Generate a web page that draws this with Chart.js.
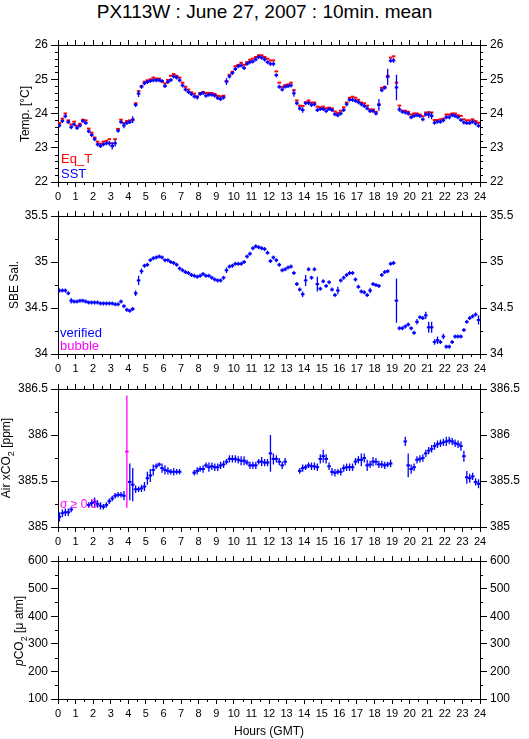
<!DOCTYPE html>
<html>
<head>
<meta charset="utf-8">
<script src="https://cdn.jsdelivr.net/npm/chart.js@4.4.1/dist/chart.umd.min.js"></script>
<style>
  body { margin: 0; background: #fff; width: 529px; height: 739px; position: relative; overflow: hidden;
         font-family: "Liberation Sans", Arial, sans-serif; color: #000; }
  canvas { position: absolute; left: 0; }
  .txt { position: absolute; white-space: nowrap; line-height: 1; }
  .rot { transform: translate(-50%, -50%) rotate(-90deg); font-size: 12px; }
</style>
</head>
<body>
<div class="txt" style="left:0;width:529px;top:2px;text-align:center;font-size:19px">PX113W : June 27, 2007 : 10min. mean</div>

<canvas id="c1" width="529" height="171" style="top:33px"></canvas>
<canvas id="c2" width="529" height="172" style="top:204px"></canvas>
<canvas id="c3" width="529" height="172" style="top:377px"></canvas>
<canvas id="c4" width="529" height="190" style="top:549px"></canvas>

<div class="txt rot" style="left:25px;top:114px">Temp. [°C]</div>
<div class="txt rot" style="left:14px;top:285px">SBE Sal.</div>
<div class="txt rot" style="left:8px;top:458px">Air xCO<sub style="font-size:9px">2</sub> [ppm]</div>
<div class="txt rot" style="left:21px;top:631px"><i>p</i>CO<sub style="font-size:9px">2</sub> [μ atm]</div>

<div class="txt" style="left:61px;top:152px;font-size:13px;color:#f00">Eq_T</div>
<div class="txt" style="left:61px;top:167px;font-size:13px;color:#00f">SST</div>
<div class="txt" style="left:60px;top:326px;font-size:13px;color:#00f">verified</div>
<div class="txt" style="left:60px;top:339px;font-size:13px;color:#f0f">bubble</div>
<div class="txt" style="left:60px;top:498px;font-size:12px;color:#f0f">σ ≥ 0.3</div>
<div class="txt" style="left:0;width:538px;top:725px;text-align:center;font-size:12px">Hours (GMT)</div>

<script>
// 10-minute bins over the day (bin centres in hours)
const binCenters = Array.from({ length: 144 }, (_, i) => (i + 0.5) / 6);

const hourTicks = [0,1,2,3,4,5,6,7,8,9,10,11,12,13,14,15,16,17,18,19,20,21,22,23,24];
const tempTicks = [22, 23, 24, 25, 26];
const salTicks  = [34, 34.5, 35, 35.5];
const co2Ticks  = [385, 385.5, 386, 386.5];
const pco2Ticks = [100, 200, 300, 400, 500, 600];

// ── Temperature (°C), one row per hour ─────────────────────
const sst = [
  23.65,23.78,23.92,23.75,23.60,23.68,  23.58,23.65,23.78,23.72,23.48,23.37,
  23.25,23.10,23.05,23.10,23.13,23.13,  23.05,23.13,23.50,23.75,23.65,23.72,
  23.75,23.82,24.25,24.58,24.78,24.88,  24.92,24.95,24.97,24.97,24.97,24.95,
  24.80,24.92,24.98,25.08,25.05,24.97,  24.82,24.70,24.63,24.57,24.50,24.47,
  24.57,24.60,24.52,24.55,24.55,24.52,  24.45,24.42,24.47,24.93,25.08,25.18,
  25.30,25.38,25.40,25.33,25.45,25.50,  25.52,25.58,25.65,25.63,25.58,25.50,
  25.45,25.45,25.12,24.78,24.70,24.78,  24.80,24.82,24.59,24.30,24.15,24.10,
  24.30,24.31,24.25,24.27,24.10,24.13,  24.13,24.07,24.13,24.10,23.98,23.95,
  24.00,24.10,24.27,24.40,24.40,24.37,  24.33,24.27,24.22,24.15,24.07,24.07,
  24.00,24.25,24.68,24.75,25.07,25.54,  25.55,24.76,24.12,24.05,24.03,24.00,
  23.89,23.93,23.95,23.93,23.83,23.97,  23.97,23.93,23.73,23.76,23.76,23.80,
  23.89,23.89,23.95,23.93,23.89,23.81,  23.74,23.72,23.72,23.76,23.71,23.64
];
const sstSd = [
  .03,.03,.06,.03,.03,.03,  .03,.03,.03,.05,.03,.03,  .03,.06,.05,.03,.05,.07,  .10,.09,.03,.05,.08,.05,
  .03,.10,.05,.10,.05,.03,  .03,.03,.03,.04,.03,.03,  .04,.03,.03,.03,.03,.03,  .03,.03,.03,.03,.03,.03,
  .03,.03,.03,.03,.03,.03,  .03,.03,.03,.10,.03,.03,  .03,.03,.03,.03,.03,.03,  .03,.03,.03,.03,.03,.05,
  .06,.07,.05,.03,.03,.03,  .03,.03,.10,.03,.06,.08,  .03,.03,.05,.03,.05,.03,  .03,.03,.03,.03,.05,.06,
  .03,.03,.03,.03,.03,.03,  .03,.03,.03,.03,.03,.03,  .03,.17,.05,.03,.24,.06,  .07,.37,.07,.03,.03,.03,
  .03,.03,.03,.03,.03,.03,  .10,.10,.05,.03,.03,.03,  .03,.03,.03,.03,.03,.03,  .03,.03,.03,.03,.03,.04
];
const eqT = [
  23.72,23.85,24.00,23.80,23.68,23.76,  23.64,23.70,23.82,23.80,23.56,23.44,
  23.30,23.18,23.12,23.18,23.20,23.25,  23.13,23.25,23.55,23.82,23.72,23.78,
  23.80,23.82,24.30,24.65,24.80,24.93,  24.97,25.00,25.05,25.02,25.02,24.93,
  24.88,24.98,25.10,25.15,25.10,25.05,  24.90,24.78,24.70,24.62,24.58,24.50,
  24.60,24.63,24.60,24.60,24.60,24.57,  24.52,24.50,24.52,24.95,25.13,25.22,
  25.38,25.42,25.48,25.42,25.50,25.57,  25.60,25.65,25.70,25.70,25.65,25.60,
  25.55,25.55,25.23,24.90,24.78,24.83,  24.85,24.90,24.68,24.38,24.23,24.22,
  24.33,24.38,24.32,24.32,24.20,24.18,  24.20,24.15,24.17,24.15,24.06,24.02,
  24.08,24.18,24.32,24.46,24.49,24.46,  24.40,24.32,24.30,24.23,24.12,24.12,
  24.05,24.27,24.75,24.78,25.10,25.63,  25.67,24.90,24.23,24.08,24.08,24.05,
  23.97,24.00,24.00,23.97,23.92,24.03,  24.03,24.03,23.81,23.81,23.83,23.85,
  23.97,23.97,24.00,24.00,23.95,23.93,  23.83,23.80,23.80,23.83,23.78,23.73
];

// ── SBE salinity ───────────────────────────────────────────
const salinity = [
  34.69,34.69,34.69,34.66,34.58,34.57,  34.57,34.58,34.58,34.57,34.56,34.56,
  34.56,34.56,34.55,34.55,34.55,34.55,  34.55,34.54,34.54,34.57,34.52,34.48,
  34.47,34.49,34.66,34.80,34.90,34.96,  34.97,35.02,35.04,35.05,35.06,35.05,
  35.02,35.02,35.00,34.99,34.97,34.93,  34.91,34.89,34.88,34.86,34.85,34.84,
  34.85,34.87,34.85,34.85,34.83,34.81,  34.80,34.80,34.83,34.91,34.95,34.96,
  34.98,34.98,34.98,35.00,35.06,35.09,  35.15,35.17,35.16,35.15,35.14,35.10,
  35.01,35.05,35.02,34.97,34.91,34.92,  34.94,34.95,34.88,34.76,34.70,34.65,
  34.80,34.92,34.83,34.92,34.76,34.71,  34.79,34.74,34.78,34.70,34.64,34.69,
  34.80,34.83,34.86,34.88,34.88,34.81,  34.73,34.68,34.67,34.64,34.69,34.76,
  34.75,34.74,34.86,34.89,34.90,34.98,  34.99,34.58,34.28,34.28,34.30,34.32,
  34.28,34.23,34.35,34.40,34.39,34.42,  34.29,34.29,34.13,34.15,34.13,34.19,
  34.08,34.08,34.13,34.19,34.19,34.19,  34.26,34.35,34.39,34.41,34.43,34.37
];
const salinitySd = [
  .01,.01,.01,.01,.03,.01,  .01,.01,.01,.01,.01,.01,  .01,.01,.01,.01,.01,.01,  .01,.01,.01,.02,.01,.01,
  .01,.01,.03,.05,.03,.02,  .01,.01,.01,.01,.01,.01,  .01,.01,.01,.01,.01,.01,  .01,.01,.01,.01,.01,.01,
  .01,.01,.01,.01,.01,.01,  .01,.01,.01,.03,.01,.01,  .01,.01,.01,.01,.01,.01,  .01,.01,.01,.01,.01,.02,
  .02,.01,.01,.02,.01,.01,  .01,.01,.02,.02,.02,.03,  .06,.02,.02,.02,.08,.01,  .02,.02,.02,.01,.02,.04,
  .02,.01,.01,.01,.01,.01,  .01,.01,.01,.01,.03,.01,  .01,.01,.01,.02,.02,.01,  .01,.24,.02,.02,.01,.01,
  .01,.02,.03,.01,.02,.04,  .06,.06,.03,.04,.02,.03,  .02,.01,.02,.01,.01,.01,  .02,.01,.01,.01,.01,.05
];

// ── Air xCO2 (ppm); null = no measurement in that bin ───────
const airCo2 = [
  385.11,385.15,385.16,385.16,385.19,null,    null,null,null,null,385.24,385.26,
  385.27,385.25,385.23,385.22,385.24,385.28,  385.31,385.34,385.35,385.35,385.34,null,
  385.49,385.46,385.41,385.41,385.42,385.44,  385.53,385.56,385.62,385.66,385.68,385.64,
  385.62,385.61,385.60,385.60,385.60,385.60,  null,null,null,null,385.59,385.61,
  385.63,385.63,385.67,385.65,385.66,385.65,  385.65,385.67,385.68,385.71,385.74,385.74,
  385.74,385.73,385.72,385.72,385.70,385.67,  385.67,385.67,385.71,385.71,385.70,385.70,
  385.80,385.74,385.74,385.71,385.67,385.71,  null,null,null,null,385.61,385.64,
  385.65,385.67,385.66,385.66,385.65,385.74,  385.77,385.74,385.66,385.60,385.59,385.60,
  385.60,385.64,385.65,385.65,385.65,385.71,  385.73,385.73,385.75,385.67,385.68,385.71,
  385.71,385.68,385.68,385.67,385.68,385.69,  null,null,null,null,385.93,385.67,
  385.63,385.65,385.73,385.74,385.75,385.80,  385.83,385.85,385.88,385.90,385.91,385.92,
  385.93,385.94,385.93,385.91,385.90,385.88,  385.77,385.54,385.53,385.55,385.49,385.47
];
const airCo2Sd = [
  .05,.04,.04,.04,.03,0,  0,0,0,0,.03,.04,  .05,.04,.04,.03,.03,.03,  .03,.03,.03,.03,.05,0,
  .20,.18,.04,.03,.04,.05,  .07,.07,.06,.03,.02,.05,  .05,.04,.03,.04,.03,.03,  0,0,0,0,.03,.04,
  .03,.04,.03,.05,.04,.04,  .04,.04,.04,.03,.04,.04,  .04,.04,.05,.05,.03,.04,  .04,.04,.03,.05,.04,.04,
  .20,.06,.04,.04,.04,.04,  0,0,0,0,.03,.04,  .03,.03,.04,.04,.04,.05,  .07,.05,.04,.04,.04,.03,
  .04,.04,.04,.04,.04,.04,  .04,.07,.05,.06,.04,.05,  .04,.04,.04,.04,.03,.04,  0,0,0,0,.05,.13,
  .05,.04,.04,.04,.04,.04,  .04,.04,.04,.04,.04,.04,  .05,.04,.04,.04,.04,.05,  .06,.07,.05,.04,.04,.05
];
// bins flagged σ ≥ 0.3
const highSigmaHours  = [3.917];
const highSigmaValues = [385.82];
const highSigmaSd     = [0.61];

const BLUE = '#0000ff', RED = '#ff0000', MAGENTA = '#ff00ff';

function points(xs, ys) {
  return xs.map((x, i) => ({ x, y: ys[i] })).filter(p => p.y != null);
}

// vertical error bars drawn through the chart's own scales
const errorBars = {
  id: 'errorBars',
  afterDatasetsDraw(chart) {
    const { ctx, scales: { x, y } } = chart;
    ctx.save();
    chart.data.datasets.forEach(ds => {
      if (!ds.sd) return;
      ctx.strokeStyle = ds.borderColor;
      ctx.lineWidth = 1.3;
      ctx.beginPath();
      ds.data.forEach((p, i) => {
        const px = x.getPixelForValue(p.x);
        const py = y.getPixelForValue(p.y);
        const half = Math.max(2, py - y.getPixelForValue(p.y + ds.sd[i]));
        ctx.moveTo(px, py - half);
        ctx.lineTo(px, py + half);
      });
      ctx.stroke();
    });
    ctx.restore();
  }
};

// short minor ticks outside the frame
const minorTicks = {
  id: 'minorTicks',
  afterDraw(chart, args, opts) {
    const { ctx, chartArea: a, scales: { x, y } } = chart;
    ctx.save();
    ctx.strokeStyle = '#000';
    ctx.lineWidth = 1;
    ctx.beginPath();
    for (let v = x.min + opts.x; v < x.max; v += opts.x) {
      if (Math.abs(v - Math.round(v)) < 1e-6) continue;
      const px = Math.round(x.getPixelForValue(v)) + 0.5;
      ctx.moveTo(px, a.top); ctx.lineTo(px, a.top - 3);
      ctx.moveTo(px, a.bottom); ctx.lineTo(px, a.bottom + 3);
    }
    for (let k = 1; y.min + k * opts.y < y.max - 1e-9; k++) {
      const v = y.min + k * opts.y;
      if (opts.yMajor.some(m => Math.abs(m - v) < 1e-6)) continue;
      const py = Math.round(y.getPixelForValue(v)) + 0.5;
      ctx.moveTo(a.left, py); ctx.lineTo(a.left - 3, py);
      ctx.moveTo(a.right, py); ctx.lineTo(a.right + 3, py);
    }
    ctx.stroke();
    ctx.restore();
  }
};

function makePanel(id, { yTicks, yMinor, datasets, bottom }) {
  const tickFont = { family: '"Liberation Sans", Arial, sans-serif', size: 12 };
  const yMin = yTicks[0], yMax = yTicks[yTicks.length - 1];
  const yAxis = (position, width) => ({
    type: 'linear', position, min: yMin, max: yMax,
    afterBuildTicks: s => { s.ticks = yTicks.map(v => ({ value: v })); },
    ticks: { font: tickFont, color: '#000', padding: 3, callback: v => String(v) },
    grid: { drawOnChartArea: false, tickLength: 7, tickColor: '#000' },
    border: { color: '#000', width: 1 },
    afterFit: s => { s.width = width; }
  });
  return new Chart(document.getElementById(id), {
    type: 'scatter',
    data: { datasets },
    options: {
      responsive: false,
      animation: false,
      devicePixelRatio: 1,
      events: [],
      layout: { padding: 0 },
      elements: { point: { pointStyle: 'line', radius: 1.8, borderWidth: 2 } },
      plugins: {
        legend: { display: false },
        tooltip: { enabled: false },
        minorTicks: { x: 0.5, y: yMinor, yMajor: yTicks }
      },
      scales: {
        x: {
          type: 'linear', position: 'bottom', min: 0, max: 24,
          afterBuildTicks: s => { s.ticks = hourTicks.map(v => ({ value: v })); },
          ticks: { font: { ...tickFont, size: 11 }, color: '#000', padding: 3, maxRotation: 0, autoSkip: false },
          grid: { drawOnChartArea: false, tickLength: 5, tickColor: '#000' },
          border: { color: '#000', width: 1 },
          afterFit: s => { s.height = bottom; }
        },
        xTop: {
          type: 'linear', position: 'top', min: 0, max: 24,
          afterBuildTicks: s => { s.ticks = hourTicks.map(v => ({ value: v })); },
          ticks: { display: false },
          grid: { drawOnChartArea: false, tickLength: 5, tickColor: '#000' },
          border: { color: '#000', width: 1 },
          afterFit: s => { s.height = 12; }
        },
        y: yAxis('left', 58),
        y2: yAxis('right', 49)
      }
    },
    plugins: [errorBars, minorTicks]
  });
}

makePanel('c1', {
  yTicks: tempTicks, yMinor: 0.2, bottom: 22,
  datasets: [
    { label: 'SST', data: points(binCenters, sst), sd: sstSd, borderColor: BLUE, backgroundColor: BLUE },
    { label: 'Eq_T', data: points(binCenters, eqT), borderColor: RED, backgroundColor: RED }
  ]
});

makePanel('c2', {
  yTicks: salTicks, yMinor: 0.25, bottom: 22,
  datasets: [
    { label: 'verified', data: points(binCenters, salinity), sd: salinitySd, borderColor: BLUE, backgroundColor: BLUE }
  ]
});

const co2Pts = binCenters.map((x, i) => ({ x, y: airCo2[i], s: airCo2Sd[i] })).filter(p => p.y != null);
makePanel('c3', {
  yTicks: co2Ticks, yMinor: 0.25, bottom: 22,
  datasets: [
    { label: 'σ ≥ 0.3', data: points(highSigmaHours, highSigmaValues), sd: highSigmaSd,
      borderColor: MAGENTA, backgroundColor: MAGENTA },
    { label: 'Air xCO2', data: co2Pts.map(p => ({ x: p.x, y: p.y })), sd: co2Pts.map(p => p.s),
      borderColor: BLUE, backgroundColor: BLUE }
  ]
});

makePanel('c4', {
  yTicks: pco2Ticks, yMinor: 50, bottom: 40,
  datasets: []
});
</script>
</body>
</html>
